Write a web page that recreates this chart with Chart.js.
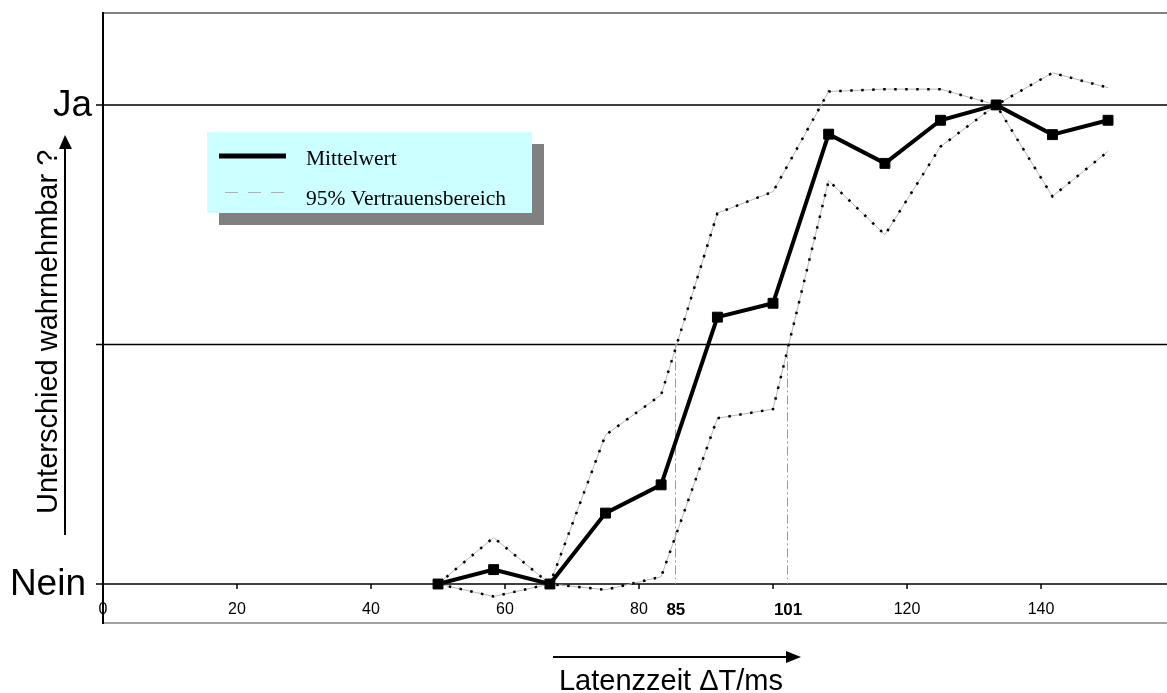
<!DOCTYPE html>
<html>
<head>
<meta charset="utf-8">
<script src="https://cdn.jsdelivr.net/npm/chart.js@4/dist/chart.umd.min.js"></script>
<style>
  body { margin: 0; background: #fff; }
  canvas { display: block; }
</style>
</head>
<body>
<canvas id="latencyChart" width="1167" height="693"></canvas>
<script>
// Latenzzeit in ms (x) and the answers, 0 = Nein, 1 = Ja
const latency = [50, 58.3, 66.7, 75, 83.3, 91.7, 100, 108.3, 116.7, 125, 133.3, 141.7, 150];
const meanValues = [0, 0.03, 0, 0.148, 0.207, 0.557, 0.586, 0.939, 0.878, 0.968, 1.0, 0.938, 0.968];
const upperValues = [0, 0.097, 0, 0.311, 0.395, 0.774, 0.819, 1.028, 1.033, 1.033, 1.0, 1.067, 1.036];
const lowerValues = [0, -0.026, 0, -0.012, 0.015, 0.346, 0.365, 0.842, 0.729, 0.913, 1.0, 0.809, 0.903];

const xTickLabels = [0, 20, 40, 60, 80, 120, 140];
const xTickMarks = [20, 40, 60, 80, 100, 120, 140];
const dropX = [85.35, 102.1];
const dropLabels = ['85', '101'];
const yTickValues = [0, 0.5, 1];
const yTickLabels = ['Nein', '', 'Ja'];

const SANS = '"Liberation Sans", Arial, sans-serif';
const SERIF = '"Liberation Serif", "Times New Roman", serif';

function pts(values) {
  return values.map((v, i) => ({ x: latency[i], y: v }));
}

function line(ctx, x1, y1, x2, y2) {
  ctx.beginPath();
  ctx.moveTo(x1, y1);
  ctx.lineTo(x2, y2);
  ctx.stroke();
}

const framePlugin = {
  id: 'frame',
  beforeDatasetsDraw(chart) {
    const { ctx, chartArea: a, scales: { x, y } } = chart;
    const y0 = y.getPixelForValue(0);
    ctx.save();
    // outer frame top / bottom
    ctx.strokeStyle = '#808080';
    ctx.lineWidth = 2;
    line(ctx, a.left, a.top + 1, a.right, a.top + 1);
    ctx.strokeStyle = '#a0a0a0';
    line(ctx, a.left, a.bottom - 1, a.right, a.bottom - 1);

    // horizontal lines at Nein / middle / Ja
    ctx.strokeStyle = '#000';
    ctx.lineWidth = 1.5;
    yTickValues.forEach(v => {
      const py = y.getPixelForValue(v);
      line(ctx, a.left - 7, py, a.right, py);
    });

    // tick marks on the x axis
    ctx.lineWidth = 1.5;
    xTickMarks.forEach(v => {
      const px = x.getPixelForValue(v);
      line(ctx, px, y0, px, y0 + 5);
    });

    // drop lines where the confidence band crosses 0.5
    ctx.strokeStyle = '#9a9a9a';
    ctx.lineWidth = 1;
    ctx.setLineDash([9, 3, 2, 3]);
    dropX.forEach(v => {
      const px = Math.round(x.getPixelForValue(v)) + 0.5;
      line(ctx, px, y.getPixelForValue(0.5), px, y0);
    });
    ctx.setLineDash([]);

    // left axis
    ctx.strokeStyle = '#000';
    ctx.lineWidth = 2;
    line(ctx, a.left, a.top, a.left, a.bottom);
    ctx.restore();
  },
  afterDraw(chart) {
    const { ctx, scales: { x, y } } = chart;
    const y0 = y.getPixelForValue(0);
    ctx.save();
    ctx.fillStyle = '#000';
    ctx.textAlign = 'center';
    ctx.textBaseline = 'middle';

    ctx.font = '16px ' + SANS;
    xTickLabels.forEach(v => ctx.fillText(String(v), x.getPixelForValue(v), y0 + 26));
    ctx.font = 'bold 17px ' + SANS;
    dropX.forEach((v, i) => ctx.fillText(dropLabels[i], x.getPixelForValue(v) + 1, y0 + 26));

    ctx.font = '37px ' + SANS;
    ctx.textAlign = 'right';
    yTickValues.forEach((v, i) => {
      if (yTickLabels[i]) ctx.fillText(yTickLabels[i], i === 2 ? 92 : 86, y.getPixelForValue(v) + 1);
    });

    // axis titles
    ctx.font = '29px ' + SANS;
    ctx.textAlign = 'center';
    ctx.textBaseline = 'alphabetic';
    ctx.fillText('Latenzzeit \u0394T/ms', 671, 690);

    ctx.save();
    ctx.translate(57, 514);
    ctx.rotate(-Math.PI / 2);
    ctx.textAlign = 'left';
    ctx.fillText('Unterschied wahrnehmbar ?', 0, 0);
    ctx.restore();

    // arrows
    ctx.strokeStyle = '#000';
    ctx.lineWidth = 2;
    line(ctx, 553, 657, 790, 657);
    ctx.beginPath();
    ctx.moveTo(801, 657);
    ctx.lineTo(786, 651);
    ctx.lineTo(786, 663);
    ctx.closePath();
    ctx.fill();

    line(ctx, 65, 535, 65, 145);
    ctx.beginPath();
    ctx.moveTo(65, 135);
    ctx.lineTo(59, 149);
    ctx.lineTo(72, 149);
    ctx.closePath();
    ctx.fill();

    // legend box with shadow
    ctx.fillStyle = '#808080';
    ctx.fillRect(219, 144, 325, 81);
    ctx.fillStyle = '#ccffff';
    ctx.fillRect(207, 132, 325, 81);
    ctx.strokeStyle = '#000';
    ctx.lineWidth = 5;
    line(ctx, 219, 156, 286, 156);
    ctx.strokeStyle = '#b0b0b0';
    ctx.lineWidth = 1;
    ctx.setLineDash([13, 10]);
    line(ctx, 225, 192.5, 287, 192.5);
    ctx.setLineDash([]);
    ctx.fillStyle = '#000';
    ctx.font = '21.5px ' + SERIF;
    ctx.textAlign = 'left';
    ctx.fillText('Mittelwert', 306, 165);
    ctx.fillText('95% Vertrauensbereich', 306, 205);
    ctx.restore();
  }
};

function bandSet(values, label) {
  return [
    {
      label: label,
      data: pts(values),
      borderColor: '#000',
      borderWidth: 2.5,
      borderDash: [2.5, 8.5],
      pointRadius: 0,
      order: 1
    },
    {
      label: label,
      data: pts(values),
      borderColor: '#b8b8b8',
      borderWidth: 1,
      pointRadius: 0,
      order: 2
    }
  ];
}

new Chart(document.getElementById('latencyChart'), {
  type: 'line',
  data: {
    datasets: [
      {
        label: 'Mittelwert',
        data: pts(meanValues),
        borderColor: '#000',
        backgroundColor: '#000',
        borderWidth: 4,
        pointStyle: 'rect',
        pointRadius: 7,
        pointBorderWidth: 1,
        order: 0
      },
      ...bandSet(upperValues, '95% Vertrauensbereich'),
      ...bandSet(lowerValues, '95% Vertrauensbereich')
    ]
  },
  options: {
    responsive: false,
    animation: false,
    layout: { autoPadding: false, padding: { left: 103, top: 12, right: 0, bottom: 69 } },
    scales: {
      x: { type: 'linear', min: 0, max: 158.8, display: false },
      y: { min: -0.0835, max: 1.194, display: false }
    },
    plugins: {
      legend: { display: false },
      tooltip: { enabled: false }
    }
  },
  plugins: [framePlugin]
});
</script>
</body>
</html>
